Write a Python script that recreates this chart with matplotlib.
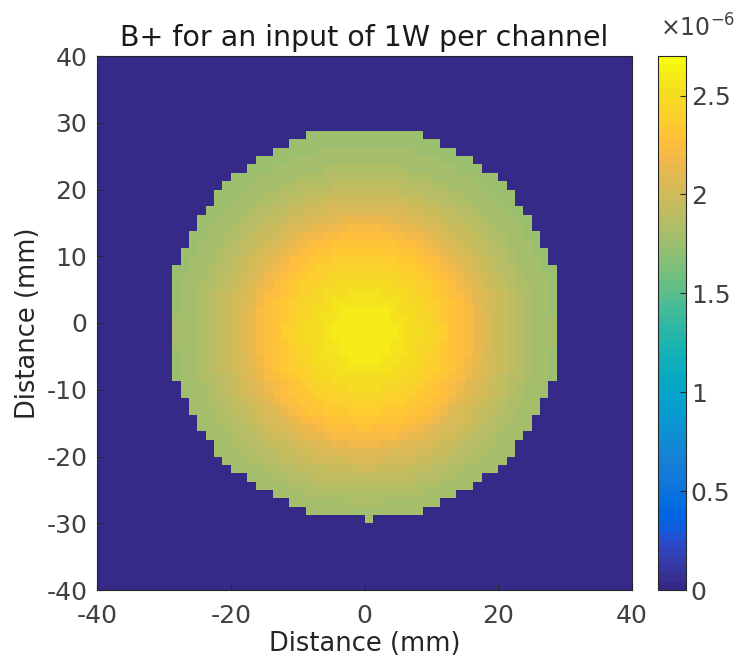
import numpy as np
import matplotlib
matplotlib.use("Agg")
import matplotlib.pyplot as plt
from matplotlib.colors import ListedColormap

plt.rcParams['font.family'] = ['DejaVu Sans']
plt.rcParams['axes.unicode_minus'] = False

# parula-like colormap (MATLAB default)
parula = ListedColormap([
    [0.2081, 0.1663, 0.5292], [0.2116, 0.1898, 0.5777], [0.2123, 0.2138, 0.6270], [0.2081, 0.2386, 0.6771],
    [0.1959, 0.2645, 0.7279], [0.1707, 0.2919, 0.7792], [0.1253, 0.3242, 0.8303], [0.0591, 0.3598, 0.8683],
    [0.0117, 0.3875, 0.8820], [0.0060, 0.4086, 0.8828], [0.0165, 0.4266, 0.8786], [0.0329, 0.4430, 0.8720],
    [0.0498, 0.4586, 0.8641], [0.0629, 0.4737, 0.8554], [0.0723, 0.4887, 0.8467], [0.0779, 0.5040, 0.8384],
    [0.0793, 0.5200, 0.8312], [0.0749, 0.5375, 0.8263], [0.0641, 0.5570, 0.8240], [0.0488, 0.5772, 0.8228],
    [0.0343, 0.5966, 0.8199], [0.0265, 0.6137, 0.8135], [0.0239, 0.6287, 0.8038], [0.0231, 0.6418, 0.7913],
    [0.0228, 0.6535, 0.7768], [0.0267, 0.6642, 0.7607], [0.0384, 0.6743, 0.7436], [0.0590, 0.6838, 0.7254],
    [0.0843, 0.6928, 0.7062], [0.1133, 0.7015, 0.6859], [0.1453, 0.7098, 0.6646], [0.1801, 0.7177, 0.6424],
    [0.2178, 0.7250, 0.6193], [0.2586, 0.7317, 0.5954], [0.3022, 0.7376, 0.5712], [0.3482, 0.7424, 0.5473],
    [0.3953, 0.7459, 0.5244], [0.4420, 0.7481, 0.5033], [0.4871, 0.7491, 0.4840], [0.5300, 0.7491, 0.4661],
    [0.5709, 0.7485, 0.4494], [0.6099, 0.7473, 0.4337], [0.6473, 0.7456, 0.4188], [0.6834, 0.7435, 0.4044],
    [0.7184, 0.7411, 0.3905], [0.7525, 0.7384, 0.3768], [0.7858, 0.7356, 0.3633], [0.8185, 0.7327, 0.3498],
    [0.8507, 0.7299, 0.3360], [0.8824, 0.7274, 0.3217], [0.9139, 0.7258, 0.3063], [0.9450, 0.7261, 0.2886],
    [0.9739, 0.7314, 0.2666], [0.9938, 0.7455, 0.2403], [0.9990, 0.7653, 0.2164], [0.9955, 0.7861, 0.1967],
    [0.9880, 0.8066, 0.1794], [0.9789, 0.8271, 0.1633], [0.9697, 0.8481, 0.1475], [0.9626, 0.8705, 0.1309],
    [0.9589, 0.8949, 0.1132], [0.9598, 0.9218, 0.0948], [0.9661, 0.9514, 0.0755], [0.9763, 0.9831, 0.0538]])

# data
radius_mm = [0, 5, 9, 12, 15, 18, 22, 26, 30]
b1_e6 = [2.62, 2.57, 2.47, 2.36, 2.25, 2.08, 1.92, 1.80, 1.75]   # x 1e-6
peak_center = (0.0, -1.5)      # mm
phantom_radius = 29.3          # mm
nub_cell = (0.625, -29.375)    # one extra voxel at bottom
pixel = 1.25                   # mm
fov = 40
cmax = 2.7

edges = np.arange(-fov, fov + pixel / 2, pixel)
centers = (edges[:-1] + edges[1:]) / 2
X, Y = np.meshgrid(centers, centers)
r = np.hypot(X - peak_center[0], Y - peak_center[1])
field = np.interp(r, radius_mm, b1_e6)
mask = np.hypot(X, Y) <= phantom_radius
mask |= (np.abs(X - nub_cell[0]) < 0.1) & (np.abs(Y - nub_cell[1]) < 0.1)
field = np.where(mask, field, 0.0)

W, H = 756, 664
fig = plt.figure(figsize=(W / 100, H / 100), dpi=100)
ax = fig.add_axes([97 / W, (H - 590) / H, 535 / W, 534 / H])
cax = fig.add_axes([658 / W, (H - 590) / H, 28 / W, 534 / H])

mesh = ax.pcolormesh(edges, edges, field, cmap=parula, vmin=0, vmax=cmax)
ax.set_xlim(-fov, fov)
ax.set_ylim(-fov, fov)
ax.set_xticks([-40, -20, 0, 20, 40])
ax.set_yticks([-40, -30, -20, -10, 0, 10, 20, 30, 40])
ax.set_xlabel("Distance (mm)", fontsize=18.5, color="#262626", labelpad=2)
ax.set_ylabel("Distance (mm)", fontsize=18.5, color="#262626", labelpad=4)
ax.set_title("B+ for an input of 1W per channel", fontsize=20.5, color="#1a1a1a", pad=7)
ax.tick_params(direction="in", length=4, labelsize=18, colors="#262626", labelcolor="#404040")
ax.tick_params(axis="x", pad=10)
ax.tick_params(axis="y", pad=7)
for s in ax.spines.values():
    s.set_color("#262626")
    s.set_linewidth(0.8)

cb = fig.colorbar(mesh, cax=cax)
cb.set_ticks([0, 0.5, 1, 1.5, 2, 2.5])
cb.set_ticklabels(["0", "0.5", "1", "1.5", "2", "2.5"])
cax.tick_params(direction="in", length=4, labelsize=18, colors="#262626", labelcolor="#404040")
cb.outline.set_edgecolor("#262626")
cb.outline.set_linewidth(0.8)
fig.text(660 / W, (H - 28) / H, r"$\times$10$^{\mathsf{-6}}$", fontsize=17, color="#404040", va="center")

fig.savefig("out.png", dpi=100)
